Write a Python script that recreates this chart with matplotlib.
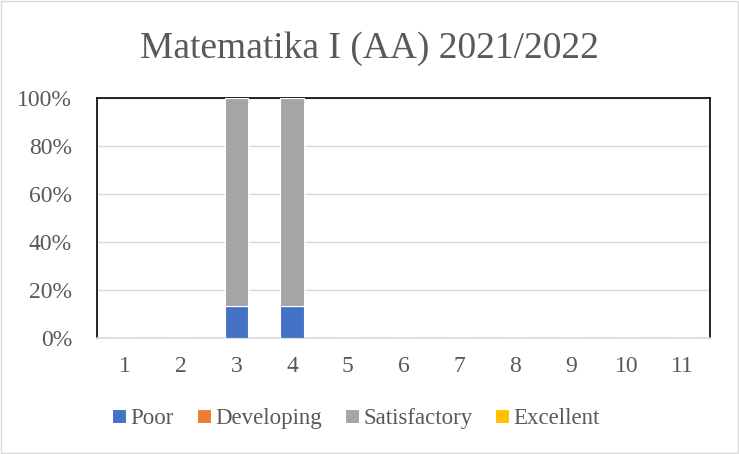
import numpy as np
import matplotlib
matplotlib.use('Agg')
import matplotlib.pyplot as plt
from matplotlib.patches import Rectangle

# data (fractions of students per level, per category)
categories = [str(i) for i in range(1, 12)]
poor = [0, 0, 0.133, 0.133, 0, 0, 0, 0, 0, 0, 0]
developing = [0] * 11
satisfactory = [0, 0, 0.867, 0.867, 0, 0, 0, 0, 0, 0, 0]
excellent = [0] * 11

series_names = ['Poor', 'Developing', 'Satisfactory', 'Excellent']
series_colors = ['#4472C4', '#ED7D31', '#A5A5A5', '#FFC000']

plt.rcParams['font.family'] = ['Liberation Serif', 'DejaVu Serif']
text_col = '#595959'

fig = plt.figure(figsize=(7.39, 4.54), dpi=100)
ax = fig.add_axes([0.1313, 0.2555, 0.8295, 0.5286])

x = np.arange(len(categories))
bottom = np.zeros(len(categories))
for name, vals, col in zip(series_names, [poor, developing, satisfactory, excellent], series_colors):
  vals = np.array(vals)
  ax.bar(x, vals, width=0.42, bottom=bottom, color=col, edgecolor='white',
         linewidth=0.8, label=name, zorder=3)
  bottom += vals

ax.set_xlim(-0.5, len(categories) - 0.5)
ax.set_ylim(0, 1)
ax.set_yticks(np.arange(0, 1.01, 0.2))
ax.set_yticklabels(['%d%%' % round(v * 100) for v in np.arange(0, 1.01, 0.2)])
ax.set_xticks(x)
ax.set_xticklabels(categories)
ax.tick_params(axis='both', length=0, labelsize=17, colors=text_col)
ax.tick_params(axis='y', pad=18)
ax.tick_params(axis='x', pad=13)
ax.grid(axis='y', color='#D9D9D9', linewidth=1, zorder=0)
for s in ax.spines.values():
  s.set_color('black')
  s.set_linewidth(1.2)
ax.spines['bottom'].set_color('#D9D9D9')

fig.suptitle('Matematika I (AA) 2021/2022', y=0.93, fontsize=27, color=text_col)

leg = fig.legend(loc='center', bbox_to_anchor=(0.482, 0.078), ncol=4, frameon=False,
                 prop={'family': 'Liberation Serif', 'size': 16.5},
                 handlelength=0.6, handleheight=0.6, handletextpad=0.2,
                 columnspacing=1.0, labelcolor=text_col)

fig.patches.append(Rectangle((0.002, 0.002), 0.996, 0.996, transform=fig.transFigure,
                             fill=False, edgecolor='#D9D9D9', linewidth=1))

fig.savefig('out.png', dpi=100)
